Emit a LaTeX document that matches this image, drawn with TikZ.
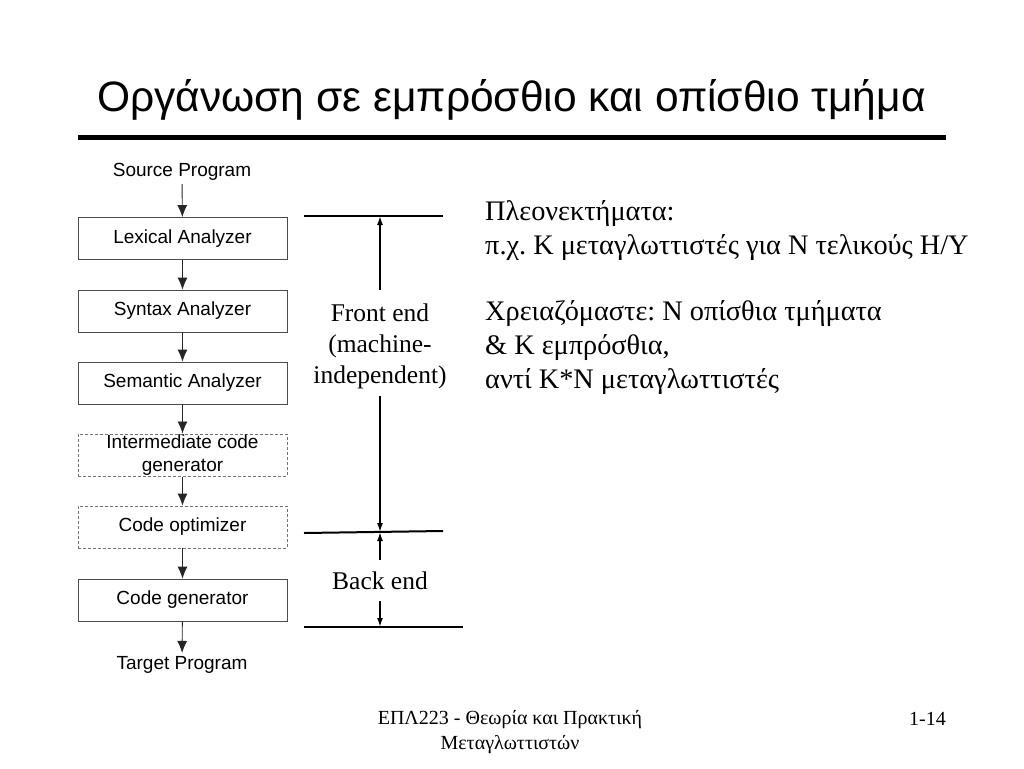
\documentclass[tikz,border=0pt]{standalone}
\usepackage{fontspec}
\setmainfont{Liberation Serif}
\setsansfont{Liberation Sans}
\usepackage{tikz}
\usetikzlibrary{arrows.meta, positioning}
\frenchspacing
\tikzset{
  stage/.style={draw=black!70, line width=0.8pt, minimum width=209pt, minimum height=42pt, inner sep=1pt, font=\sffamily\fontsize{19}{22.5}\selectfont, align=center},
  optstage/.style={stage, dashed, draw=black!55, dash pattern=on 3pt off 2pt},
  flow/.style={-{Latex[length=12pt, width=10pt]}, line width=0.9pt, black!85},
  span/.style={-{Latex[length=9pt, width=6pt]}, line width=1.6pt},
  marker/.style={line width=2pt},
  plain/.style={font=\sffamily\fontsize{19}{22}\selectfont},
  serif/.style={font=\rmfamily\fontsize{25.5}{31}\selectfont, align=center},
}

\begin{document}
\begin{tikzpicture}[x=1pt, y=-1pt]
        \useasboundingbox (0,0) rectangle (1024,768);
        % Title
        \node[anchor=base west, inner sep=0pt, font=\sffamily\fontsize{42.5}{44}\selectfont] (title) at (97,111) {Οργάνωση σε εμπρόσθιο και οπίσθιο τμήμα};
        \draw[line width=5pt] (78,137) -- (946,137);

        % Nodes
        \node[plain] (src) at (182,172) {Source Program};
        \node[stage] (lex) at (182.5,238.5) {Lexical Analyzer};
        \node[stage] (syn) at (182.5,311) {Syntax Analyzer};
        \node[stage] (sem) at (182.5,383) {Semantic Analyzer};
        \node[optstage] (icg) at (182.5,455) {Intermediate code\\generator};
        \node[optstage] (opt) at (182.5,527) {Code optimizer};
        \node[stage] (gen) at (182.5,600) {Code generator};
        \node[plain] (tgt) at (182,665) {Target Program};

        % Directed edges
        \draw[flow] (src) -- (lex);
        \draw[flow] (lex) -- (syn);
        \draw[flow] (syn) -- (sem);
        \draw[flow] (sem) -- (icg);
        \draw[flow] (icg) -- (opt);
        \draw[flow] (opt) -- (gen);
        \draw[flow] (gen) -- (tgt);

        % Front end / back end spans
        \coordinate (feL) at (304,216);
        \coordinate (feR) at (443,216);
        \coordinate (fe) at (380,216);
        \coordinate (midL) at (304,533);
        \coordinate (midR) at (443,531);
        \coordinate (mid) at (380,532);
        \coordinate (beL) at (304,627);
        \coordinate (beR) at (463,627);
        \coordinate (be) at (380,627);
        \draw[marker] (feL) -- (feR);
        \draw[marker] (midL) -- (midR);
        \draw[marker] (beL) -- (beR);

        \node[serif] (front) at (380,346) {Front end\\(machine-\\independent)};
        \node[serif] (back) at (380,581) {Back end};
        \draw[span] (front.north |- 0,290) -- (fe);
        \draw[span] (front.south |- 0,396) -- (mid);
        \draw[span] (back.north |- 0,560) -- (mid);
        \draw[span] (back.south |- 0,601) -- (be);

        % Notes
        \node[anchor=base west, inner sep=0pt, align=left, font=\rmfamily\fontsize{28.3}{34}\selectfont] (notes) at (485,388) {Πλεονεκτήματα:\\π.χ. Κ μεταγλωττιστές για Ν τελικούς Η/Υ\\[32pt]Χρειαζόμαστε: Ν οπίσθια τμήματα\\\& Κ εμπρόσθια,\\αντί Κ*Ν μεταγλωττιστές};

        % Footer
        \node[align=center, font=\rmfamily\fontsize{20}{25}\selectfont] (course) at (510,732) {ΕΠΛ223 - Θεωρία και Πρακτική\\Μεταγλωττιστών};
        \node[anchor=east, inner sep=0pt, font=\rmfamily\fontsize{20}{22}\selectfont] (page) at (946,719) {1-14};
    \end{tikzpicture}
\end{document}
